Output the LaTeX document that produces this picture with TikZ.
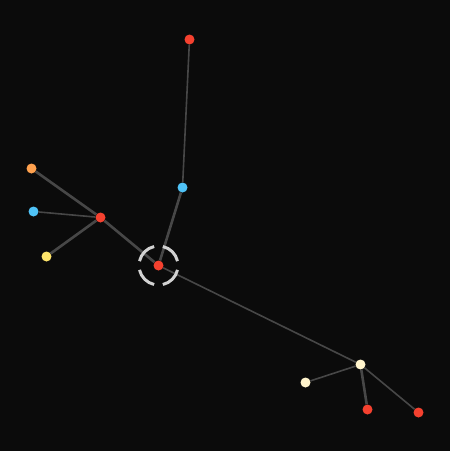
\documentclass[tikz,border=0pt]{standalone}
\usepackage{tikz}

\definecolor{bg}{HTML}{0B0B0B}
\definecolor{edgegray}{HTML}{474747}
\definecolor{ringgray}{HTML}{D2D2D2}
\definecolor{tomato}{HTML}{F5412F}
\definecolor{sky}{HTML}{4FC3F7}
\definecolor{amber}{HTML}{FFA14E}
\definecolor{lemon}{HTML}{FFE56B}
\definecolor{cream}{HTML}{FFF4CC}

\begin{document}
\begin{tikzpicture}[x=1pt,y=-1pt,
	dot/.style={circle,inner sep=0pt,minimum size=10pt,fill=#1},
	link/.style={edgegray,line width=1.6pt},
	heavy/.style={edgegray,line width=2.6pt}]
	\fill [bg] (0,0) rectangle (450,451);
	\useasboundingbox (0,0) rectangle (450,451);
	% nodes
	\node [dot=tomato] (hub) at (158.5,265.5) {};
	\node [dot=tomato] (top) at (189.5,39.5) {};
	\node [dot=sky] (mid) at (182.5,187.5) {};
	\node [dot=tomato] (lefthub) at (100.5,217.5) {};
	\node [dot=amber] (orange) at (31.5,168.5) {};
	\node [dot=sky] (leftblue) at (33.5,211.5) {};
	\node [dot=lemon] (yellow) at (46.5,256.5) {};
	\node [dot=cream] (righthub) at (360.5,364.5) {};
	\node [dot=cream] (cream2) at (305.5,382.5) {};
	\node [dot=tomato] (red3) at (367.5,409.5) {};
	\node [dot=tomato] (red4) at (418.5,412.5) {};
	% edges
	\draw [link] (top) -- (mid);
	\draw [heavy] (mid) -- (hub);
	\draw [heavy] (hub) -- (lefthub);
	\draw [heavy] (lefthub) -- (orange);
	\draw [link] (lefthub) -- (leftblue);
	\draw [heavy] (lefthub) -- (yellow);
	\draw [link] (hub) -- (righthub);
	\draw [link] (righthub) -- (cream2);
	\draw [heavy] (righthub) -- (red3);
	\draw [link] (righthub) -- (red4);
	% dashed ring round the hub
	\foreach \a in {0,90,180,270}
		\draw [ringgray,line width=3pt] ([shift={(\a+13:19.5)}]hub.center) arc (\a+13:\a+77:19.5);
\end{tikzpicture}
\end{document}
